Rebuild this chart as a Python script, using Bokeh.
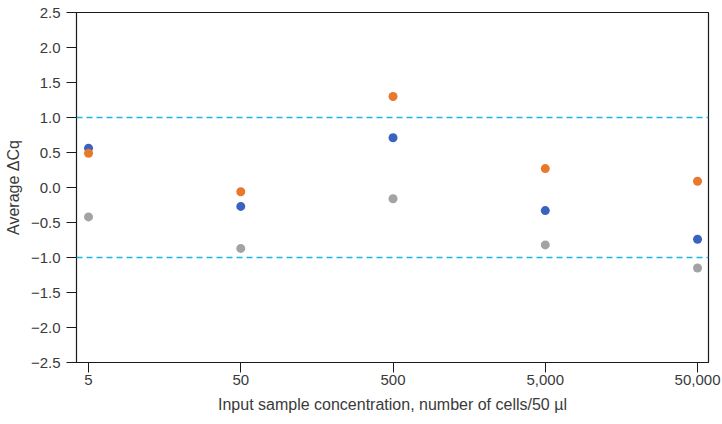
from bokeh.plotting import figure
from bokeh.models import FixedTicker, Span, Range1d, ColumnDataSource
from bokeh.embed import file_html
from bokeh.resources import INLINE

# Data
categories = ["5", "50", "500", "5,000", "50,000"]
series_orange = [0.49, -0.06, 1.30, 0.27, 0.09]
series_blue = [0.56, -0.27, 0.71, -0.33, -0.74]
series_grey = [-0.42, -0.87, -0.16, -0.82, -1.15]
y_ticks = [2.5, 2.0, 1.5, 1.0, 0.5, 0.0, -0.5, -1.0, -1.5, -2.0, -2.5]
threshold_lines = [1.0, -1.0]

xs = list(range(len(categories)))

p = figure(width=722, height=424, output_backend="svg", toolbar_location=None,
           x_range=Range1d(-0.079, 4.072), y_range=Range1d(-2.5, 2.5),
           min_border_left=76, min_border_right=14, min_border_top=12,
           min_border_bottom=62)

p.xgrid.visible = False
p.ygrid.visible = False
p.outline_line_color = "#1a1a1a"
p.outline_line_width = 1.2
p.background_fill_color = "white"
p.border_fill_color = "white"

for th in threshold_lines:
    p.add_layout(Span(location=th, dimension="width", line_color="#1cb6de",
                      line_width=1.5, line_dash="6 4"))

src = ColumnDataSource(dict(x=xs, o=series_orange, b=series_blue, g=series_grey))
p.scatter("x", "g", source=src, size=9, fill_color="#a3a3a3", line_color=None)
p.scatter("x", "b", source=src, size=9, fill_color="#3a63c0", line_color=None)
p.scatter("x", "o", source=src, size=9, fill_color="#e8792c", line_color=None)

font = "Liberation Sans"
txt = "#3a3a3a"

p.xaxis.ticker = FixedTicker(ticks=xs)
p.xaxis.major_label_overrides = {i: c for i, c in enumerate(categories)}
p.yaxis.ticker = FixedTicker(ticks=y_ticks)
p.yaxis.major_label_overrides = {t: ("%.1f" % t).replace("-", "\u2212") for t in y_ticks}

for ax in (p.xaxis[0], p.yaxis[0]):
    ax.major_tick_in = 0
    ax.major_tick_out = 10
    ax.minor_tick_line_color = None
    ax.axis_line_color = "#1a1a1a"
    ax.major_tick_line_color = "#1a1a1a"
    ax.major_label_text_font = font
    ax.major_label_text_font_size = "15px"
    ax.major_label_text_color = txt
    ax.axis_label_text_font = font
    ax.axis_label_text_font_size = "16px"
    ax.axis_label_text_color = txt
    ax.axis_label_text_font_style = "normal"

p.xaxis.axis_label = "Input sample concentration, number of cells/50 \u00b5l"
p.yaxis.axis_label = "Average \u0394Cq"
p.xaxis.major_label_standoff = 2
p.xaxis.axis_label_standoff = 8
p.yaxis.major_label_standoff = 6
p.yaxis.axis_label_standoff = 6

open("out.html", "w").write(file_html(p, INLINE))
